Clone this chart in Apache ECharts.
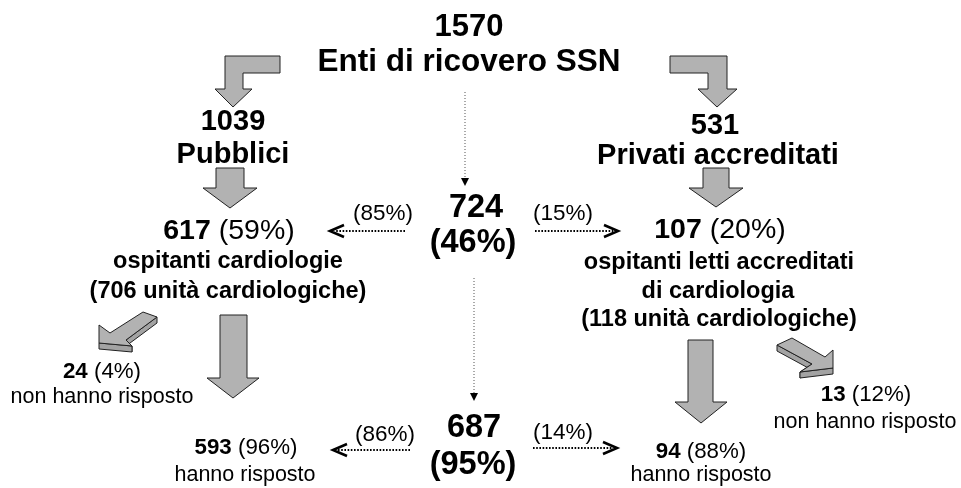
<!DOCTYPE html>
<html>
<head>
<meta charset="utf-8">
<script src="https://cdn.jsdelivr.net/npm/echarts@6/dist/echarts.min.js"></script>
<style>
html, body { margin: 0; padding: 0; background: #fff; }
#chart { width: 961px; height: 488px; }
</style>
</head>
<body>
<div id="chart"></div>
<script>
// node values (order: SSN, pubblici, privati, 724, 617, 107, 24, 13, 687, 593, 94)
const counts = ['1570', '1039', '531', '724', '617', '107', '24', '13', '687', '593', '94'];
const shares = ['', '', '', '(46%)', '(59%)', '(20%)', '(4%)', '(12%)', '(95%)', '(96%)', '(88%)'];
const captions = [
    ['Enti di ricovero SSN'],
    ['Pubblici'],
    ['Privati accreditati'],
    [],
    ['ospitanti cardiologie', '(706 unità cardiologiche)'],
    ['ospitanti letti accreditati', 'di cardiologia', '(118 unità cardiologiche)'],
    ['non hanno risposto'],
    ['non hanno risposto'],
    [],
    ['hanno risposto'],
    ['hanno risposto']
];
// split of 724 and 687 between pubblici / privati
const flowShares = ['(85%)', '(15%)', '(86%)', '(14%)'];

// ---- layout (pixel-like units on a hidden 961 x 488 value grid) ----
// [node, part, x, y, fontSize, bold]
const textLayout = [
    [0, 'count', 469, 27, 31, true],
    [0, 'cap0', 469, 62, 31.5, true],
    [1, 'count', 233, 122, 29, true],
    [1, 'cap0', 233, 155, 29, true],
    [2, 'count', 715, 126, 29, true],
    [2, 'cap0', 718, 156, 29, true],
    [3, 'count', 476, 208, 32.5, true],
    [3, 'share', 473, 243, 32.5, true],
    [4, 'mix', 229, 231, 28.5, true],
    [4, 'cap0', 228, 262, 23.5, true],
    [4, 'cap1', 228, 292, 23.5, true],
    [5, 'mix', 720, 230, 28.5, true],
    [5, 'cap0', 719, 263, 23.5, true],
    [5, 'cap1', 718, 292, 23.5, true],
    [5, 'cap2', 719, 320, 23.5, true],
    [6, 'mix', 102, 372, 22.3, true],
    [6, 'cap0', 102, 397, 21.5, false],
    [7, 'mix', 866, 395, 22.3, true],
    [7, 'cap0', 865, 422, 21.5, false],
    [8, 'count', 474, 428, 32.5, true],
    [8, 'share', 473, 465, 32.5, true],
    [9, 'mix', 246, 448, 22.3, true],
    [9, 'cap0', 245, 475, 21.5, false],
    [10, 'mix', 701, 452, 22.3, true],
    [10, 'cap0', 701, 475, 21.5, false]
];
// [flow index, x, y]
const flowLayout = [
    [0, 383, 214],
    [1, 563, 214],
    [2, 385, 435],
    [3, 563, 433]
];
// dotted links [x1, y1, x2, y2]
const dotLinks = [
    [465, 92, 465, 186],
    [474, 278, 474, 401],
    [405, 231, 330, 231],
    [535, 231, 618, 231],
    [410, 450, 333, 450],
    [533, 448, 617, 448]
];
// flat block arrows
const blockArrows = [
    [[280, 56], [225, 56], [225, 89], [215, 89], [233, 107], [252, 89], [243, 89], [243, 73], [280, 73]],
    [[670, 56], [727, 56], [727, 89], [737, 89], [717, 107], [698, 89], [708, 89], [708, 73], [670, 73]],
    [[216, 168], [244, 168], [244, 188], [257, 188], [230, 208], [203, 188], [216, 188]],
    [[703, 168], [729, 168], [729, 188], [743, 188], [716, 207], [689, 188], [703, 188]],
    [[220, 315], [247, 315], [247, 378], [259, 378], [233, 398], [207, 378], [220, 378]],
    [[688, 340], [713, 340], [713, 402], [727, 402], [701, 423], [675, 402], [688, 402]]
];
// slanted 3d arrows: side faces first, then top face
const slantArrows = [
    {
        sides: [
            [[157, 317], [126, 340], [126, 346], [157, 323]],
            [[126, 340], [132, 346], [132, 352], [126, 346]],
            [[99, 343], [132, 346], [132, 352], [99, 349]]
        ],
        top: [[99, 343], [99, 325], [110, 333], [143, 312], [157, 317], [126, 340], [132, 346]]
    },
    {
        sides: [
            [[777, 345], [812, 364], [812, 370], [777, 351]],
            [[812, 364], [800, 372], [800, 378], [812, 370]],
            [[800, 372], [833, 368], [833, 374], [800, 378]]
        ],
        top: [[777, 345], [792, 338], [825, 357], [833, 350], [833, 368], [800, 372], [812, 364]]
    }
];

const FONT = '"Liberation Sans", Arial, Helvetica, sans-serif';
const ARROW_FILL = '#b2b2b2';
const SIDE_FILL = '#a3a3a3';
const EDGE = '#222';

function toPx(api, pts) {
    return pts.map(p => api.coord(p));
}

function textFor(row) {
    const node = row[0], part = row[1];
    if (part === 'count') return counts[node];
    if (part === 'share') return shares[node];
    if (part === 'mix') return '{b|' + counts[node] + '} {r|' + shares[node] + '}';
    return captions[node][+part.slice(3)];
}

let chart = echarts.init(document.getElementById('chart'));

let option = {
    backgroundColor: '#fff',
    animation: false,
    grid: { left: 0, right: 0, top: 0, bottom: 0 },
    xAxis: { type: 'value', min: 0, max: 961, show: false },
    yAxis: { type: 'value', min: 0, max: 488, inverse: true, show: false },
    series: [
        {
            // block arrows
            type: 'custom',
            silent: true,
            data: blockArrows.map((a, i) => [a[0][0], a[0][1], i]),
            renderItem: function (params, api) {
                return {
                    type: 'polygon',
                    shape: { points: toPx(api, blockArrows[params.dataIndex]) },
                    style: { fill: ARROW_FILL, stroke: EDGE, lineWidth: 1 }
                };
            }
        },
        {
            // slanted 3d arrows
            type: 'custom',
            silent: true,
            data: slantArrows.map((a, i) => [a.top[0][0], a.top[0][1], i]),
            renderItem: function (params, api) {
                const a = slantArrows[params.dataIndex];
                const children = a.sides.map(s => ({
                    type: 'polygon',
                    shape: { points: toPx(api, s) },
                    style: { fill: SIDE_FILL, stroke: EDGE, lineWidth: 1, lineJoin: 'round' }
                }));
                children.push({
                    type: 'polygon',
                    shape: { points: toPx(api, a.top) },
                    style: { fill: ARROW_FILL, stroke: EDGE, lineWidth: 1, lineJoin: 'round' }
                });
                return { type: 'group', children: children };
            }
        },
        {
            // dotted links
            type: 'custom',
            silent: true,
            data: dotLinks.map((l, i) => [l[0], l[1], i]),
            renderItem: function (params, api) {
                const l = dotLinks[params.dataIndex];
                const p1 = api.coord([l[0], l[1]]);
                const p2 = api.coord([l[2], l[3]]);
                if (l[0] === l[2]) {
                    // vertical: thin dots + filled triangle
                    return {
                        type: 'group',
                        children: [
                            {
                                type: 'line',
                                shape: { x1: p1[0], y1: p1[1], x2: p2[0], y2: p2[1] - 6 },
                                style: { stroke: '#555', lineWidth: 1, lineDash: [1, 2] }
                            },
                            {
                                type: 'polygon',
                                shape: { points: [[p2[0] - 4, p2[1] - 8], [p2[0] + 4, p2[1] - 8], [p2[0], p2[1]]] },
                                style: { fill: '#000' }
                            }
                        ]
                    };
                }
                const dir = p2[0] > p1[0] ? 1 : -1;
                return {
                    type: 'group',
                    children: [
                        {
                            type: 'line',
                            shape: { x1: p1[0], y1: p1[1], x2: p2[0] - dir * 5, y2: p2[1] },
                            style: { stroke: '#000', lineWidth: 1.8, lineDash: [1.6, 1.6] }
                        },
                        {
                            type: 'polyline',
                            shape: { points: [[p2[0] - dir * 14, p2[1] - 6], [p2[0], p2[1]], [p2[0] - dir * 14, p2[1] + 6]] },
                            style: { stroke: '#000', lineWidth: 2.6, fill: null }
                        }
                    ]
                };
            }
        },
        {
            // node texts
            type: 'custom',
            silent: true,
            data: textLayout.map((t, i) => [t[2], t[3], i]),
            renderItem: function (params, api) {
                const row = textLayout[params.dataIndex];
                const c = api.coord([row[2], row[3]]);
                const size = row[4];
                return {
                    type: 'text',
                    x: c[0],
                    y: c[1],
                    style: {
                        text: textFor(row),
                        fontFamily: FONT,
                        fontSize: size,
                        fontWeight: row[5] ? 'bold' : 'normal',
                        fill: '#000',
                        align: 'center',
                        verticalAlign: 'middle',
                        rich: {
                            b: { fontFamily: FONT, fontSize: size, fontWeight: 'bold', fill: '#000' },
                            r: { fontFamily: FONT, fontSize: size, fontWeight: 'normal', fill: '#000' }
                        }
                    }
                };
            }
        },
        {
            // flow percentages
            type: 'custom',
            silent: true,
            data: flowLayout.map((f, i) => [f[1], f[2], i]),
            renderItem: function (params, api) {
                const f = flowLayout[params.dataIndex];
                const c = api.coord([f[1], f[2]]);
                return {
                    type: 'text',
                    x: c[0],
                    y: c[1],
                    style: {
                        text: flowShares[f[0]],
                        fontFamily: FONT,
                        fontSize: 22.5,
                        fill: '#000',
                        align: 'center',
                        verticalAlign: 'middle'
                    }
                };
            }
        }
    ]
};
chart.setOption(option, true);
</script>
</body>
</html>
